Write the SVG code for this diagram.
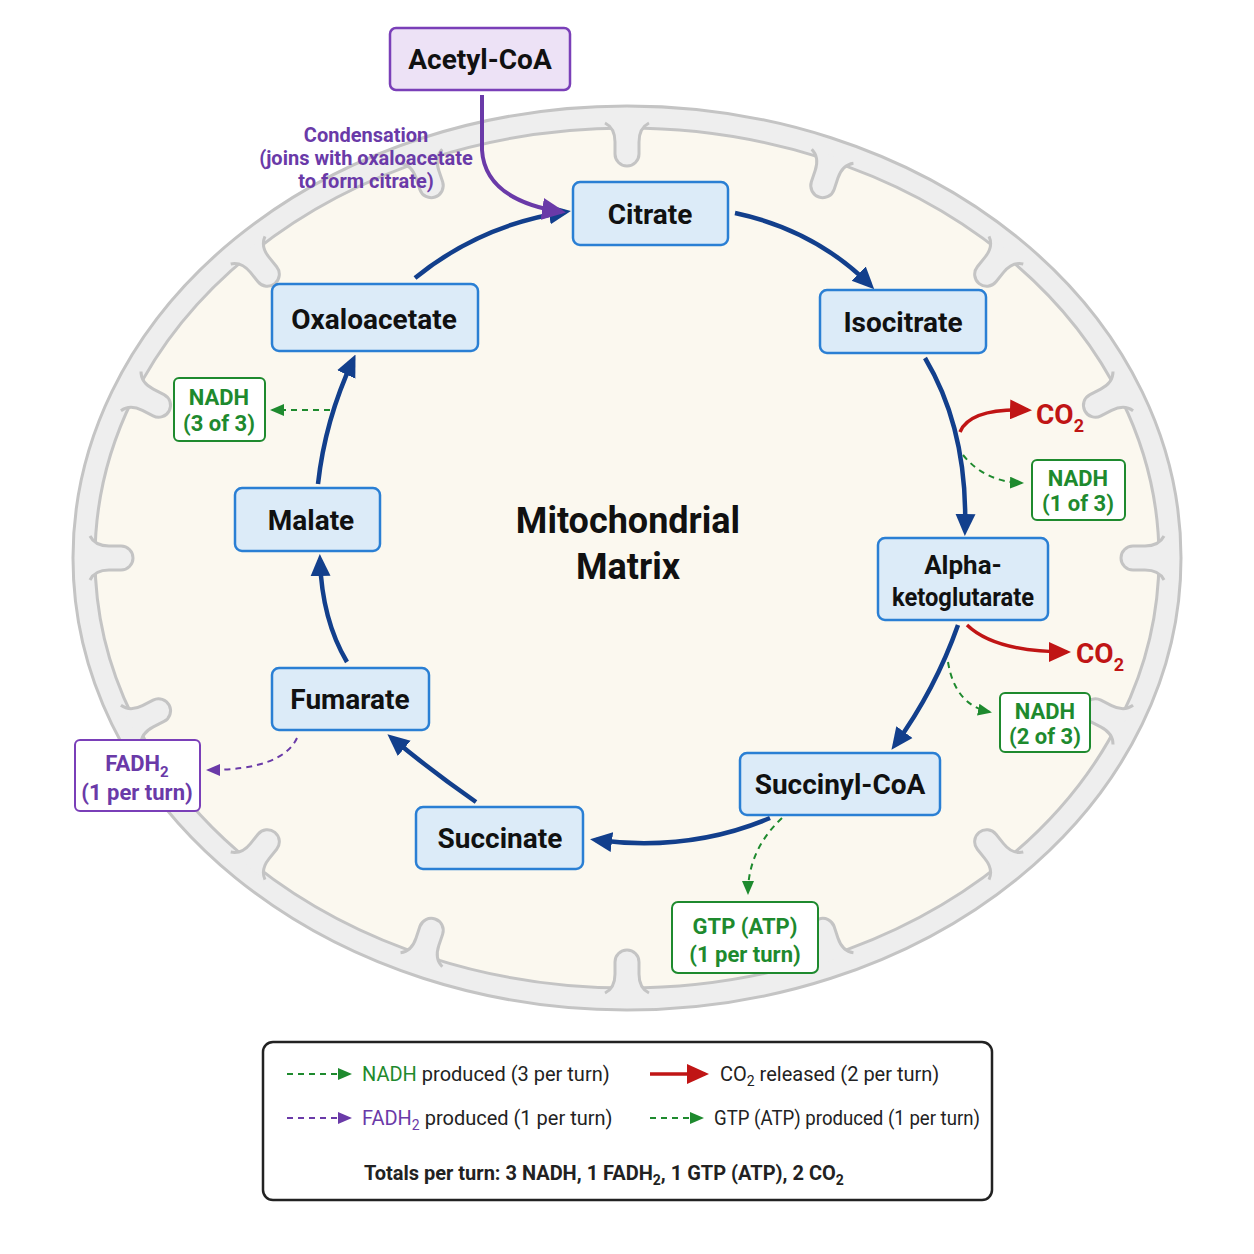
<svg xmlns="http://www.w3.org/2000/svg" width="1254" height="1254" viewBox="0 0 1254 1254">
<style>
text{font-family:Roboto,"Liberation Sans",sans-serif;text-anchor:middle}
.node rect{fill:#dcebf8;stroke:#2a7fd4;stroke-width:2.5}
.node text{font-size:28px;font-weight:bold;fill:#111}
.cyc{fill:none;stroke:#123f8c;stroke-width:4.5;marker-end:url(#mb)}
.co2{fill:none;stroke:#c01515;stroke-width:3.5;marker-end:url(#mr)}
.gd{fill:none;stroke:#1e8a2e;stroke-width:2;stroke-dasharray:6 5;marker-end:url(#mg)}
.pd{fill:none;stroke:#6a3aa8;stroke-width:2;stroke-dasharray:6 5;marker-end:url(#mp)}
.gb rect{fill:#fff;stroke:#1e8a2e;stroke-width:2}
.gb text{fill:#1e8a2e;font-size:22px;font-weight:bold}
.lg{font-size:20px;fill:#222;text-anchor:start}
.cr{fill:#eeeeee;stroke:#c4c4c4;stroke-width:3}
</style>
<defs>
<marker id="mb" markerWidth="22" markerHeight="22" refX="16" refY="11" orient="auto" markerUnits="userSpaceOnUse"><path d="M0,1L22,11L0,21z" fill="#123f8c"/></marker>
<marker id="mr" markerWidth="22" markerHeight="20" refX="18" refY="10" orient="auto" markerUnits="userSpaceOnUse"><path d="M0,0L22,10L0,20z" fill="#c01515"/></marker>
<marker id="mg" markerWidth="14" markerHeight="12" refX="12" refY="6" orient="auto" markerUnits="userSpaceOnUse"><path d="M0,0L14,6L0,12z" fill="#1e8a2e"/></marker>
<marker id="mp" markerWidth="14" markerHeight="12" refX="12" refY="6" orient="auto" markerUnits="userSpaceOnUse"><path d="M0,0L14,6L0,12z" fill="#6a3aa8"/></marker>
<marker id="mpa" markerWidth="24" markerHeight="22" refX="20" refY="11" orient="auto" markerUnits="userSpaceOnUse"><path d="M0,0L24,11L0,22z" fill="#6a3aa8"/></marker>
<path id="fold" d="M-22,-5 Q-12,0 -12,14 L-12,26 A12,12 0 0 0 12,26 L12,14 Q12,0 22,-5"/>
</defs>
<rect width="1254" height="1254" fill="#fff"/>
<g id="mito">
<ellipse cx="627" cy="558" rx="554" ry="452" fill="#eeeeee" stroke="#c4c4c4" stroke-width="3"/>
<ellipse cx="627" cy="558" rx="532" ry="430" fill="#fbf8ef" stroke="#c4c4c4" stroke-width="3"/>
<g class="cr">
<use href="#fold" transform="translate(627,128) rotate(0)"/>
<use href="#fold" transform="translate(831,161) rotate(18.5)"/>
<use href="#fold" transform="translate(1003,254) rotate(38.9)"/>
<use href="#fold" transform="translate(1118.6,393.4) rotate(62.9)"/>
<use href="#fold" transform="translate(1159,558) rotate(90)"/>
<use href="#fold" transform="translate(1118.6,722.6) rotate(117.1)"/>
<use href="#fold" transform="translate(1003,862) rotate(141.1)"/>
<use href="#fold" transform="translate(831,955) rotate(161.5)"/>
<use href="#fold" transform="translate(627,988) rotate(180)"/>
<use href="#fold" transform="translate(423,955) rotate(198.5)"/>
<use href="#fold" transform="translate(251,862) rotate(218.9)"/>
<use href="#fold" transform="translate(135.4,722.6) rotate(242.9)"/>
<use href="#fold" transform="translate(95,558) rotate(270)"/>
<use href="#fold" transform="translate(135.4,393.4) rotate(297.1)"/>
<use href="#fold" transform="translate(251,254) rotate(321.1)"/>
<use href="#fold" transform="translate(423,161) rotate(341.5)"/>
</g>
</g>
<text x="628" y="533" font-size="36" font-weight="bold" fill="#111">Mitochondrial</text>
<text x="628" y="579" font-size="36" font-weight="bold" fill="#111">Matrix</text>
<g id="connectors">
<path class="cyc" d="M735,213 Q815,230 870,285"/>
<path class="cyc" d="M925,358 Q968,430 965,530"/>
<path class="cyc" d="M958,625 Q935,690 895,745"/>
<path class="cyc" d="M770,818 Q690,852 596,840"/>
<path class="cyc" d="M476,802 Q430,770 392,738"/>
<path class="cyc" d="M347,662 Q322,620 320,560"/>
<path class="cyc" d="M318,484 Q325,420 353,360"/>
<path class="cyc" d="M415,278 Q480,225 565,212"/>
<path d="M482,95 L482,150 Q485,200 562,212" fill="none" stroke="#6a3aa8" stroke-width="4" marker-end="url(#mpa)"/>
<path class="co2" d="M960,432 Q970,408 1028,410"/>
<path class="co2" d="M967,625 Q995,652 1067,652"/>
<path class="gd" d="M963,455 Q985,482 1022,483"/>
<path class="gd" d="M948,662 Q955,705 990,712"/>
<path class="gd" d="M330,410 L272,410"/>
<path class="pd" d="M297,738 Q282,770 208,770"/>
<path class="gd" d="M782,818 Q748,850 748,893"/>
</g>
<g id="acetyl" class="node"><rect x="390" y="28" width="180" height="62" rx="6" style="fill:#ede2f6;stroke:#7a3fb8"/><text x="480" y="69">Acetyl-CoA</text></g>
<g font-size="20" font-weight="bold" fill="#6a3aa8"><text x="366" y="142">Condensation</text><text x="366" y="165">(joins with oxaloacetate</text><text x="366" y="188">to form citrate)</text></g>
<g id="citrate" class="node"><rect x="573" y="182" width="155" height="63" rx="7"/><text x="650" y="224">Citrate</text></g>
<g id="isocitrate" class="node"><rect x="820" y="290" width="166" height="63" rx="7"/><text x="903" y="332">Isocitrate</text></g>
<g id="akg" class="node"><rect x="878" y="538" width="170" height="82" rx="7"/><text x="963" y="574" style="font-size:26px">Alpha-</text><text x="963" y="606" style="font-size:26px" textLength="142" lengthAdjust="spacingAndGlyphs">ketoglutarate</text></g>
<g id="succinylcoa" class="node"><rect x="740" y="753" width="200" height="62" rx="7"/><text x="840" y="794">Succinyl-CoA</text></g>
<g id="succinate" class="node"><rect x="416" y="807" width="167" height="62" rx="7"/><text x="500" y="848">Succinate</text></g>
<g id="fumarate" class="node"><rect x="272" y="668" width="157" height="62" rx="7"/><text x="350" y="709">Fumarate</text></g>
<g id="malate" class="node"><rect x="235" y="488" width="145" height="63" rx="7"/><text x="311" y="530">Malate</text></g>
<g id="oxaloacetate" class="node"><rect x="272" y="284" width="206" height="67" rx="7"/><text x="374" y="329">Oxaloacetate</text></g>
<g fill="#c01515" font-size="28" font-weight="bold"><text x="1060" y="424">CO<tspan font-size="18" dy="8">2</tspan></text><text x="1100" y="663">CO<tspan font-size="18" dy="8">2</tspan></text></g>
<g id="nadh1" class="gb"><rect x="1032" y="460" width="93" height="60" rx="5"/><text x="1078" y="486">NADH</text><text x="1078" y="511">(1 of 3)</text></g>
<g id="nadh2" class="gb"><rect x="1000" y="693" width="90" height="59" rx="5"/><text x="1045" y="719">NADH</text><text x="1045" y="744">(2 of 3)</text></g>
<g id="nadh3" class="gb"><rect x="174" y="378" width="91" height="63" rx="5"/><text x="219" y="405">NADH</text><text x="219" y="431">(3 of 3)</text></g>
<g id="gtp" class="gb"><rect x="672" y="902" width="146" height="71" rx="6"/><text x="745" y="934">GTP (ATP)</text><text x="745" y="962">(1 per turn)</text></g>
<g id="fadh2" class="gb"><rect x="75" y="740" width="125" height="71" rx="5" style="stroke:#7a3fb8"/><text x="137" y="771" style="fill:#6a3aa8">FADH<tspan font-size="15" dy="6">2</tspan></text><text x="137" y="800" style="fill:#6a3aa8">(1 per turn)</text></g>
<g id="legend">
<rect x="263" y="1042" width="729" height="158" rx="10" fill="#fff" stroke="#222" stroke-width="2.5"/>
<path class="gd" d="M287,1074 L350,1074"/>
<text class="lg" x="362" y="1081"><tspan fill="#1e8a2e">NADH</tspan> produced (3 per turn)</text>
<path class="pd" d="M287,1118 L350,1118"/>
<text class="lg" x="362" y="1125"><tspan fill="#6a3aa8">FADH<tspan font-size="14" dy="5">2</tspan></tspan><tspan dy="-5"> produced (1 per turn)</tspan></text>
<path class="co2" d="M650,1074 L705,1074"/>
<text class="lg" x="720" y="1081">CO<tspan font-size="14" dy="5">2</tspan><tspan dy="-5"> released (2 per turn)</tspan></text>
<path class="gd" d="M650,1118 L702,1118"/>
<text class="lg" x="714" y="1125" textLength="266" lengthAdjust="spacingAndGlyphs">GTP (ATP) produced (1 per turn)</text>
<text class="lg" x="364" y="1180" font-weight="bold">Totals per turn: 3 NADH, 1 FADH<tspan font-size="14" dy="5">2</tspan><tspan dy="-5">, 1 GTP (ATP), 2 CO</tspan><tspan font-size="14" dy="5">2</tspan></text>
</g>
</svg>
